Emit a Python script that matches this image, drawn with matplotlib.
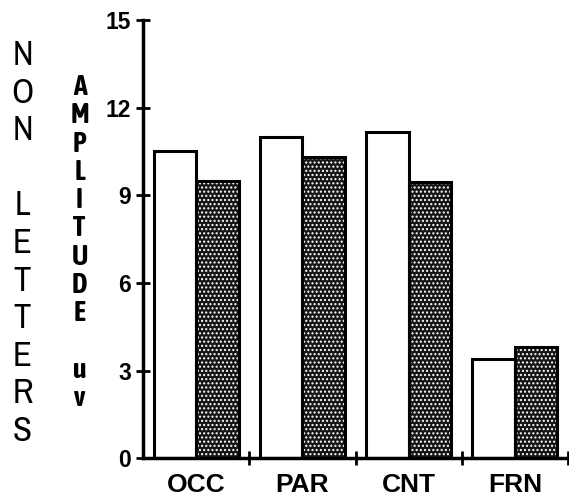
import numpy as np
import matplotlib.pyplot as plt
from matplotlib import font_manager

# mean amplitude per electrode region, two conditions
regions = ['OCC', 'PAR', 'CNT', 'FRN']
open_vals = [10.5, 11.0, 11.15, 3.4]
shaded_vals = [9.5, 10.3, 9.45, 3.8]
yticks = [0, 3, 6, 9, 12, 15]

side_title = 'NON LETTERS'
unit_title = 'AMPLITUDE uv'

installed = {f.name for f in font_manager.fontManager.ttflist}


def pick(names):
    return next((n for n in names if n in installed), 'DejaVu Sans')


side_font = pick(['Archivo Narrow', 'Liberation Sans Narrow', 'Asap Condensed'])
unit_font = pick(['Asap Condensed', 'Encode Sans Condensed', 'Barlow Semi Condensed'])
plt.rcParams['font.family'] = ['Liberation Sans', 'DejaVu Sans']

W, H = 569, 501
fig = plt.figure(figsize=(W / 100, H / 100), dpi=100)
ax = fig.add_axes([143 / W, 1 - 458.3 / H, 425 / W, 438.3 / H])

x = np.arange(len(regions))
w = 0.4
lw = 2.2

ax.bar(x, open_vals, width=-w, align='edge', facecolor='white',
       edgecolor='black', linewidth=lw, zorder=2)
# stippled fill: dark base with white dot hatch, then a black outline on top
ax.bar(x, shaded_vals, width=w, align='edge', facecolor='#151515',
       edgecolor='white', hatch='....', linewidth=0, zorder=2)
ax.bar(x, shaded_vals, width=w, align='edge', fill=False,
       edgecolor='black', linewidth=lw, zorder=3)

ax.set_xlim(-0.5, len(regions) - 0.5)
ax.set_ylim(0, 15)

ax.set_yticks(yticks)
ax.set_yticklabels([str(v) for v in yticks], fontsize=16.5, fontweight='bold')
ax.tick_params(axis='y', direction='inout', length=9.4, width=2, pad=4.0)

ax.set_xticks(x + 0.5)
ax.set_xticklabels([])
ax.set_xticks(x, minor=True)
ax.set_xticklabels(regions, minor=True, fontsize=19, fontweight='bold')
ax.tick_params(axis='x', which='major', direction='inout', length=9.4, width=2)
ax.tick_params(axis='x', which='minor', length=0, pad=10.5)

for side in ['top', 'right']:
    ax.spines[side].set_visible(False)
for side in ['left', 'bottom']:
    ax.spines[side].set_linewidth(2.5)
    ax.spines[side].set_zorder(4)

# stacked vertical titles, one letter per slot
for k, ch in enumerate(side_title):
    fig.text(22.5 / W, 1 - (65 + 37.6 * k) / H, ch, ha='center', va='baseline',
             fontsize=25, fontweight=500, family=[side_font, 'DejaVu Sans'])
for k, ch in enumerate(unit_title):
    fig.text(79.5 / W, 1 - (95 + 28.3 * k) / H, ch, ha='center', va='baseline',
             fontsize=20, fontweight='bold', family=[unit_font, 'DejaVu Sans'])

fig.savefig('out.png', dpi=100)
